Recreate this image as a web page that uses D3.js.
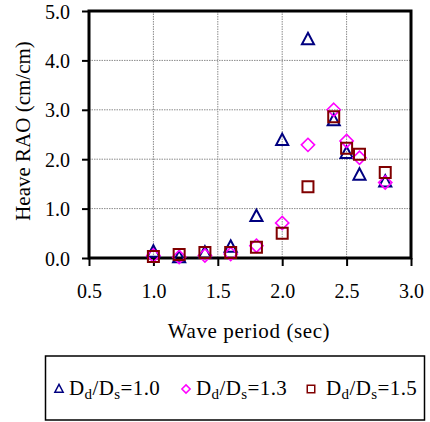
<!DOCTYPE html>
<html><head><meta charset="utf-8">
<script src="https://cdn.jsdelivr.net/npm/d3@7"></script>
<style>body{margin:0;background:#fff}svg{display:block}text{font-family:"Liberation Serif","Times New Roman",serif;fill:#000}</style>
</head><body><div id="chart"></div>
<script>
const periods = [1.0, 1.2, 1.4, 1.6, 1.8, 2.0, 2.2, 2.4, 2.5, 2.6, 2.8];
const rao10 = [0.12, 0.01, 0.10, 0.22, 0.84, 2.38, 4.42, 2.78, 2.12, 1.68, 1.54];
const rao13 = [0.05, 0.02, 0.05, 0.08, 0.25, 0.71, 2.29, 3.00, 2.37, 2.03, 1.53];
const rao15 = [0.03, 0.07, 0.11, 0.11, 0.22, 0.50, 1.44, 2.86, 2.22, 2.10, 1.73];
const xTicks = [0.5, 1.0, 1.5, 2.0, 2.5, 3.0];
const yTicks = [0, 1, 2, 3, 4, 5];
const seriesNames = ["1.0", "1.3", "1.5"];
const seriesColors = ["#000080", "#FF00FF", "#800000"];
const seriesShapes = ["triangle", "diamond", "square"];

const W = 430, H = 422;
const L = 89, R = 411, T = 11, B = 258;
const svg = d3.select("#chart").append("svg").attr("width", W).attr("height", H);
const x = d3.scaleLinear().domain([0.5, 3.0]).range([L, R]);
const y = d3.scaleLinear().domain([0, 5]).range([B, T]);

// gridlines
const grid = svg.append("g").attr("stroke", "#8a8a8a").attr("stroke-width", 1).attr("stroke-dasharray", "1.5,1");
grid.selectAll("line.v").data(xTicks.slice(1, -1)).enter().append("line")
  .attr("x1", d => x(d)).attr("x2", d => x(d)).attr("y1", T).attr("y2", B);
grid.selectAll("line.h").data(yTicks.slice(1, -1)).enter().append("line")
  .attr("x1", L).attr("x2", R).attr("y1", d => y(d)).attr("y2", d => y(d));

// axes
const xAxis = svg.append("g").attr("transform", `translate(0,${B})`)
  .call(d3.axisBottom(x).tickValues(xTicks).tickFormat(d3.format(".1f")).tickSize(8).tickSizeOuter(0));
const yAxis = svg.append("g").attr("transform", `translate(${L},0)`)
  .call(d3.axisLeft(y).tickValues(yTicks).tickFormat(d3.format(".1f")).tickSize(7).tickSizeOuter(0));
[xAxis, yAxis].forEach(a => {
  a.select(".domain").remove();
  a.selectAll(".tick line").attr("stroke", "#000").attr("stroke-width", 2);
  a.selectAll(".tick text").attr("font-size", 20).attr("font-family", "Liberation Serif");
});
xAxis.selectAll(".tick text").attr("dy", null).attr("y", 40);
yAxis.selectAll(".tick text").attr("x", -19).attr("dy", "0.35em");

// frame
svg.append("rect").attr("x", L).attr("y", T).attr("width", R - L).attr("height", B - T)
  .attr("fill", "none").attr("stroke", "#000").attr("stroke-width", 3);

// marker path
function shapePath(shape, s) {
  if (shape === "triangle") return `M0,${-s*0.62}L${s*0.55},${s*0.42}L${-s*0.55},${s*0.42}Z`;
  if (shape === "diamond") return `M0,${-s*0.55}L${s*0.55},0L0,${s*0.55}L${-s*0.55},0Z`;
  return `M${-s/2},${-s/2}H${s/2}V${s/2}H${-s/2}Z`;
}

const allSeries = [rao10, rao13, rao15];
allSeries.forEach((vals, i) => {
  svg.append("g").selectAll("path").data(periods.map((p, j) => [p, vals[j]])).enter().append("path")
    .attr("d", shapePath(seriesShapes[i], i === 1 ? 12 : 11))
    .attr("transform", d => `translate(${x(d[0])},${y(d[1])})`)
    .attr("fill", "none").attr("stroke", seriesColors[i]).attr("stroke-width", i === 1 ? 1.6 : 2);
});

// axis titles
svg.append("text").attr("x", 249).attr("y", 338).attr("text-anchor", "middle").attr("font-size", 21)
  .attr("letter-spacing", 0.6).text("Wave period (sec)");
svg.append("text").attr("transform", "translate(30,131) rotate(-90)").attr("text-anchor", "middle")
  .attr("font-size", 21).text("Heave RAO (cm/cm)");

// legend
svg.append("rect").attr("x", 45.5).attr("y", 356).attr("width", 379).attr("height", 64)
  .attr("fill", "#fff").attr("stroke", "#000").attr("stroke-width", 1.5);
const legX = [59, 186, 311];
const textX = [69, 196, 326];
seriesNames.forEach((n, i) => {
  svg.append("path").attr("d", shapePath(seriesShapes[i], 7.5))
    .attr("transform", `translate(${legX[i]},${389})`)
    .attr("fill", "none").attr("stroke", seriesColors[i]).attr("stroke-width", 1.5);
  const t = svg.append("text").attr("x", textX[i]).attr("y", 395).attr("font-size", 21).attr("letter-spacing", 0.4);
  t.append("tspan").text("D");
  t.append("tspan").attr("font-size", 15).attr("dy", 4).text("d");
  t.append("tspan").attr("dy", -4).text("/D");
  t.append("tspan").attr("font-size", 15).attr("dy", 4).text("s");
  t.append("tspan").attr("dy", -4).text("=" + n);
});
</script></body></html>
